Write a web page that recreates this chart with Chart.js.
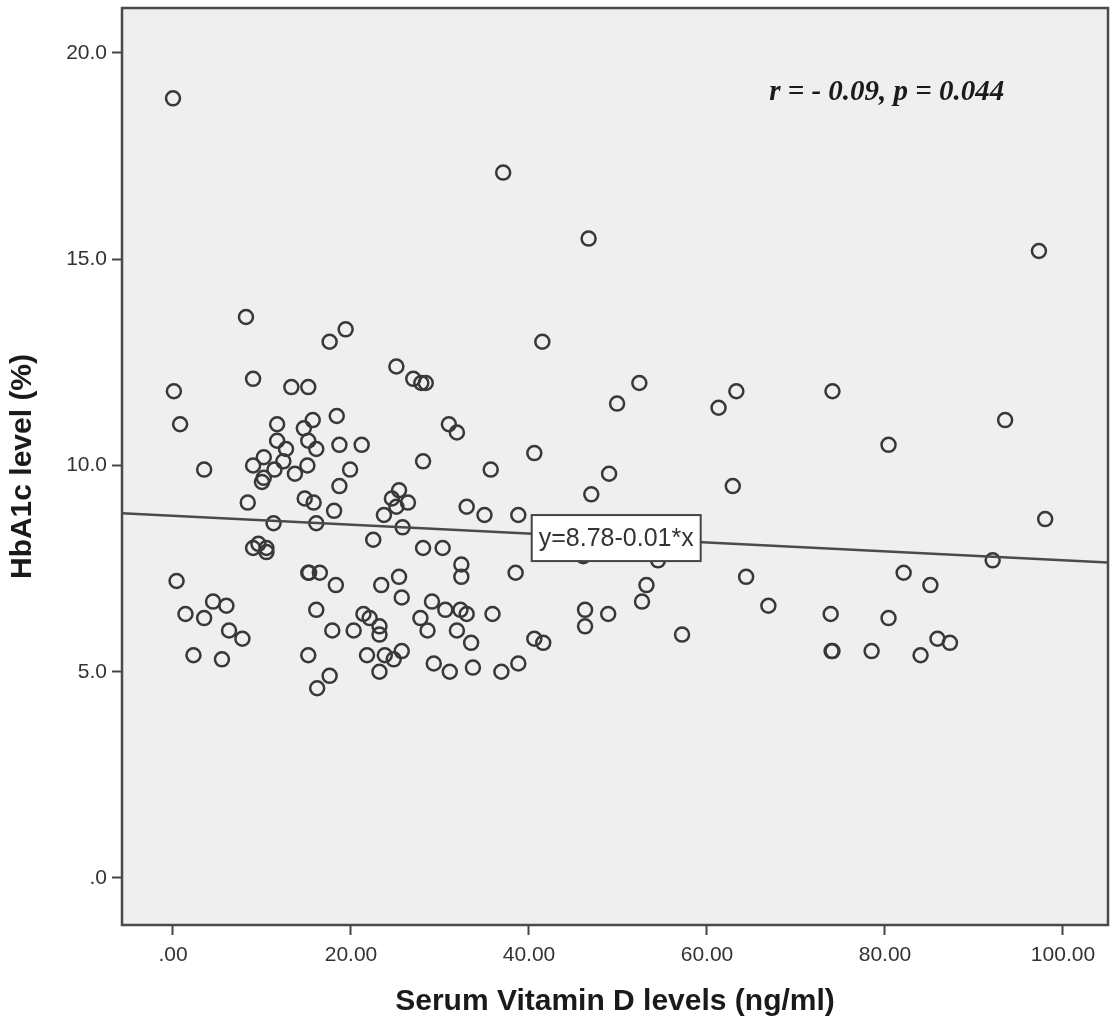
<!DOCTYPE html>
<html>
<head>
<meta charset="utf-8">
<script src="https://cdn.jsdelivr.net/npm/chart.js@4.4.1/dist/chart.umd.min.js"></script>
<style>
    html, body { margin: 0; padding: 0; background: #ffffff; }
    #wrap { width: 1112px; height: 1027px; }
</style>
</head>
<body>
<div id="wrap"><canvas id="scatter" width="1112" height="1027"></canvas></div>
<script>
// Serum vitamin D (ng/ml) for each patient
const vitaminD = [
    0.0, 37.1, 46.7, 97.3, 8.2, 19.4, 17.6, 41.5, 25.1, 9.0,
    27.0, 27.9, 28.4, 52.4, 13.3, 15.2, 0.1, 63.3, 74.1, 49.9,
    61.3, 18.4, 15.7, 93.5, 0.8, 11.7, 31.0, 14.7, 31.9, 11.7,
    15.2, 18.7, 21.2, 80.4, 12.7, 16.1, 40.6, 10.2, 12.4, 28.1,
    9.0, 15.1, 11.4, 19.9, 3.5, 35.7, 13.7, 49.0, 10.2, 10.0,
    18.7, 62.9, 25.4, 47.0, 24.6, 14.8, 8.4, 15.8, 26.4, 25.1,
    33.0, 18.1, 23.7, 35.0, 38.8, 98.0, 11.3, 16.1, 25.8, 22.5,
    9.0, 9.6, 10.5, 10.5, 28.1, 30.3, 46.1, 54.5, 92.1, 32.4,
    15.2, 15.3, 16.5, 38.5, 82.1, 32.4, 25.4, 64.4, 0.4, 18.3,
    23.4, 53.2, 85.1, 25.7, 4.5, 29.1, 52.7, 6.0, 66.9, 16.1,
    30.6, 32.3, 46.3, 1.4, 21.4, 33.0, 35.9, 48.9, 73.9, 3.5,
    22.1, 27.8, 80.4, 23.2, 46.3, 6.3, 17.9, 20.3, 28.6, 31.9,
    23.2, 57.2, 7.8, 40.6, 85.9, 33.5, 41.6, 87.3, 25.7, 74.0,
    74.1, 78.5, 2.3, 15.2, 21.8, 23.8, 84.0, 5.5, 24.8, 29.3,
    38.8, 33.7, 23.2, 31.1, 36.9, 17.6, 16.2
];

// HbA1c (%) for the same patients
const hba1c = [
    18.9, 17.1, 15.5, 15.2, 13.6, 13.3, 13.0, 13.0, 12.4, 12.1,
    12.1, 12.0, 12.0, 12.0, 11.9, 11.9, 11.8, 11.8, 11.8, 11.5,
    11.4, 11.2, 11.1, 11.1, 11.0, 11.0, 11.0, 10.9, 10.8, 10.6,
    10.6, 10.5, 10.5, 10.5, 10.4, 10.4, 10.3, 10.2, 10.1, 10.1,
    10.0, 10.0, 9.9, 9.9, 9.9, 9.9, 9.8, 9.8, 9.7, 9.6,
    9.5, 9.5, 9.4, 9.3, 9.2, 9.2, 9.1, 9.1, 9.1, 9.0,
    9.0, 8.9, 8.8, 8.8, 8.8, 8.7, 8.6, 8.6, 8.5, 8.2,
    8.0, 8.1, 8.0, 7.9, 8.0, 8.0, 7.8, 7.7, 7.7, 7.6,
    7.4, 7.4, 7.4, 7.4, 7.4, 7.3, 7.3, 7.3, 7.2, 7.1,
    7.1, 7.1, 7.1, 6.8, 6.7, 6.7, 6.7, 6.6, 6.6, 6.5,
    6.5, 6.5, 6.5, 6.4, 6.4, 6.4, 6.4, 6.4, 6.4, 6.3,
    6.3, 6.3, 6.3, 6.1, 6.1, 6.0, 6.0, 6.0, 6.0, 6.0,
    5.9, 5.9, 5.8, 5.8, 5.8, 5.7, 5.7, 5.7, 5.5, 5.5,
    5.5, 5.5, 5.4, 5.4, 5.4, 5.4, 5.4, 5.3, 5.3, 5.2,
    5.2, 5.1, 5.0, 5.0, 5.0, 4.9, 4.6
];

const fitX = [-5.73, 105.06];
const fitY = [8.84, 7.65];
const fitLabel = 'y=8.78-0.01*x';
const statsLabel = 'r = - 0.09, p = 0.044';

const xTicks = [0, 20, 40, 60, 80, 100];
const yTicks = [0, 5, 10, 15, 20];

const points = vitaminD.map((v, i) => ({x: v, y: hba1c[i]}));
const fitLine = fitX.map((v, i) => ({x: v, y: fitY[i]}));

// grey plot panel, frame and the two text boxes
const panelPlugin = {
    id: 'panelPlugin',
    beforeDatasetsDraw(chart) {
        const {ctx, chartArea: a} = chart;
        ctx.save();
        ctx.fillStyle = '#efefef';
        ctx.fillRect(a.left, a.top, a.right - a.left, a.bottom - a.top);
        ctx.restore();
    },
    afterDatasetsDraw(chart) {
        const {ctx, chartArea: a, scales} = chart;
        ctx.save();
        ctx.strokeStyle = '#4a4a4a';
        ctx.lineWidth = 2.5;
        ctx.strokeRect(a.left, a.top, a.right - a.left, a.bottom - a.top);

        // equation box on the fit line
        const bx = scales.x.getPixelForValue(49.8);
        const by = scales.y.getPixelForValue(8.24);
        ctx.font = '25px "Liberation Sans", Arial, sans-serif';
        const w = ctx.measureText(fitLabel).width + 14;
        const h = 46;
        ctx.fillStyle = '#ffffff';
        ctx.fillRect(bx - w / 2, by - h / 2, w, h);
        ctx.strokeStyle = '#444444';
        ctx.lineWidth = 2;
        ctx.strokeRect(bx - w / 2, by - h / 2, w, h);
        ctx.fillStyle = '#333333';
        ctx.textAlign = 'center';
        ctx.textBaseline = 'middle';
        ctx.fillText(fitLabel, bx, by + 1);

        // correlation note
        ctx.font = 'italic bold 29px "Liberation Serif", "Times New Roman", serif';
        ctx.fillStyle = '#1a1a1a';
        ctx.fillText(statsLabel, scales.x.getPixelForValue(80.2), scales.y.getPixelForValue(19.05));
        ctx.restore();
    }
};

const tickFont = {family: "'Liberation Sans', Arial, sans-serif", size: 21};
const titleFont = {family: "'Liberation Sans', Arial, sans-serif", size: 30, weight: 'bold'};

new Chart(document.getElementById('scatter'), {
    type: 'scatter',
    data: {
        datasets: [
            {
                label: 'HbA1c',
                data: points,
                pointRadius: 7,
                pointHoverRadius: 7,
                pointBorderWidth: 2.5,
                pointBorderColor: '#383838',
                pointBackgroundColor: 'rgba(0,0,0,0)',
                order: 2
            },
            {
                type: 'line',
                label: 'Fit',
                data: fitLine,
                borderColor: '#4a4a4a',
                borderWidth: 2.5,
                pointRadius: 0,
                fill: false,
                order: 1
            }
        ]
    },
    options: {
        responsive: false,
        animation: false,
        events: [],
        layout: {
            autoPadding: false,   // иначе Chart.js добавляет отступ под радиус точек
            padding: {top: 8, right: 4, left: 0, bottom: 0}
        },
        plugins: {
            legend: {display: false},
            tooltip: {enabled: false}
        },
        scales: {
            x: {
                type: 'linear',
                min: -5.73,
                max: 105.06,
                afterBuildTicks(scale) {
                    scale.ticks = xTicks.map(v => ({value: v}));
                },
                afterFit(scale) {
                    scale.height = 102;
                    scale.paddingLeft = 0;
                    scale.paddingRight = 0;
                },
                grid: {
                    drawOnChartArea: false,
                    drawTicks: true,
                    tickLength: 10,
                    tickWidth: 2,
                    tickColor: '#444444'
                },
                border: {display: false},
                ticks: {
                    font: tickFont,
                    color: '#333333',
                    padding: 8,
                    maxRotation: 0,
                    callback: v => v === 0 ? '.00' : v.toFixed(2)
                },
                title: {
                    display: true,
                    text: 'Serum Vitamin D levels (ng/ml)',
                    font: titleFont,
                    color: '#1a1a1a',
                    padding: {top: 0, bottom: 7}
                }
            },
            y: {
                type: 'linear',
                min: -1.14,
                max: 21.09,
                afterBuildTicks(scale) {
                    scale.ticks = yTicks.map(v => ({value: v}));
                },
                afterFit(scale) {
                    scale.width = 122;
                    scale.paddingTop = 0;
                    scale.paddingBottom = 0;
                },
                grid: {
                    drawOnChartArea: false,
                    drawTicks: true,
                    tickLength: 10,
                    tickWidth: 2,
                    tickColor: '#444444'
                },
                border: {display: false},
                ticks: {
                    font: tickFont,
                    color: '#333333',
                    padding: 5,
                    callback: v => v === 0 ? '.0' : v.toFixed(1)
                },
                title: {
                    display: true,
                    text: 'HbA1c level (%)',
                    font: titleFont,
                    color: '#1a1a1a',
                    padding: {top: 5, bottom: 0}
                }
            }
        }
    },
    plugins: [panelPlugin]
});
</script>
</body>
</html>
